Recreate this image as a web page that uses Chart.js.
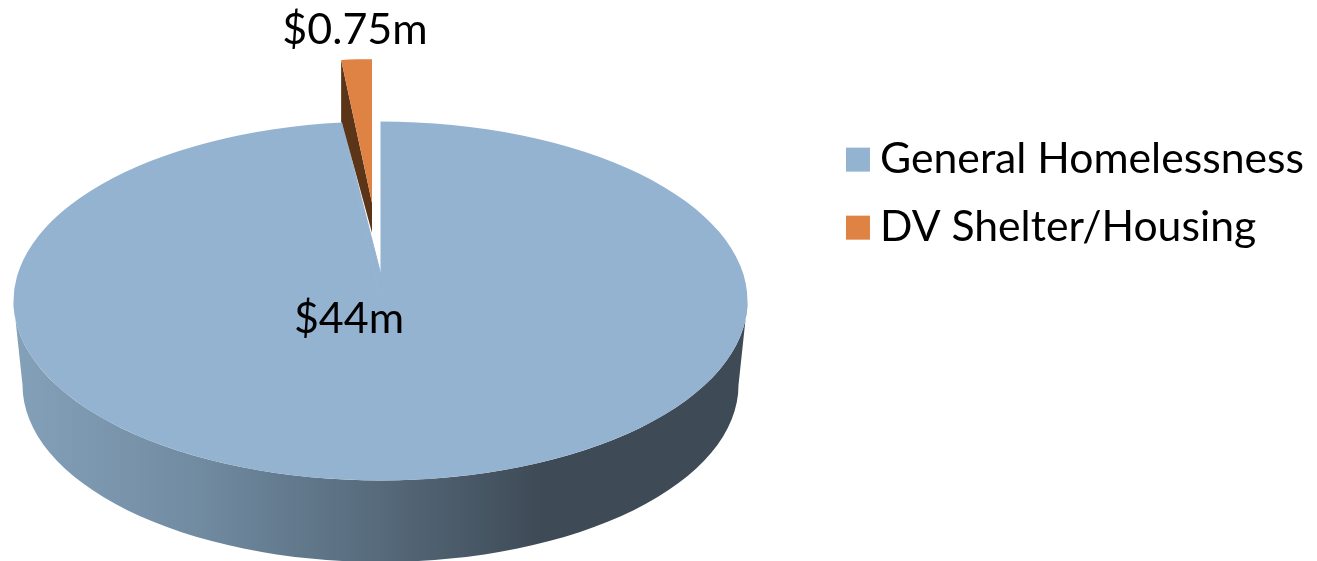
<!DOCTYPE html>
<html>
<head>
<meta charset="utf-8">
<style>
  html, body { margin: 0; background: #fff; }
  canvas { display: block; }
</style>
<script src="https://cdn.jsdelivr.net/npm/chart.js@4"></script>
</head>
<body>
<canvas id="fundingPie" width="1317" height="561"></canvas>
<script>
// Chart data
const categories = ["General Homelessness", "DV Shelter/Housing"];
const amounts = [44, 0.75];
const amountLabels = ["$44m", "$0.75m"];
const sliceColors = ["#94b3d1", "#de8344"];

// Where the tilted pie sits on the page
const pieX = 380.5, pieY = 301, pieRadius = 367, tilt = 0.489;
const wallTopY = 385, wallRadius = 358, wallDepthRadius = 177;
const fontFamily = "Lato, sans-serif";

// The small slice is pulled out and foreshortened like the picture's perspective
const explodeX = -8.5, explodeY = -201, explodeScale = 0.8;
const apexY = 273;

const pointOnRim = (angle, radius, dx = 0, dy = 0) => ({
  x: pieX + dx + Math.cos(angle) * radius,
  y: pieY + (dy + Math.sin(angle) * radius) * tilt
});

const tiltedPie = {
  id: "tiltedPie",
  afterDatasetsUpdate(chart) {
    const slice = chart.getDatasetMeta(0).data[1];
    slice.x += explodeX;
    slice.y += explodeY;
    slice.outerRadius *= explodeScale;
  },
  beforeDatasetsDraw(chart) {
    const ctx = chart.ctx;
    const [big, small] = chart.getDatasetMeta(0).data;

    // outer wall under the top face
    const shade = ctx.createLinearGradient(pieX - pieRadius, 0, pieX + pieRadius, 0);
    shade.addColorStop(0, "#84a1ba");
    shade.addColorStop(0.25, "#718ba1");
    shade.addColorStop(0.5, "#566a7b");
    shade.addColorStop(0.72, "#3e4a56");
    shade.addColorStop(1, "#3e4a56");
    ctx.save();
    ctx.fillStyle = shade;
    ctx.beginPath();
    ctx.ellipse(pieX, pieY, pieRadius, pieRadius * tilt, 0, Math.PI, 0, true);
    ctx.lineTo(pieX + wallRadius, wallTopY);
    ctx.ellipse(pieX, wallTopY, wallRadius, wallDepthRadius, 0, 0, Math.PI);
    ctx.closePath();
    ctx.fill();

    // the gap left by the small slice closes higher up than the ellipse centre
    const gapLeft = pointOnRim(big.endAngle, pieRadius);
    ctx.fillStyle = sliceColors[0];
    ctx.strokeStyle = sliceColors[0];
    ctx.lineWidth = 1;
    ctx.beginPath();
    ctx.moveTo(gapLeft.x, gapLeft.y);
    ctx.lineTo(pieX, apexY);
    ctx.lineTo(pieX, pieY);
    ctx.closePath();
    ctx.fill();
    ctx.stroke();

    // cut face of the small slice
    const sliceLeft = pointOnRim(small.startAngle, small.outerRadius, explodeX, explodeY);
    const tipY = pieY + explodeY * tilt;
    ctx.fillStyle = "#5c3519";
    ctx.beginPath();
    ctx.moveTo(sliceLeft.x, sliceLeft.y);
    ctx.lineTo(pieX + explodeX, tipY);
    ctx.lineTo(pieX + explodeX, tipY + 30);
    ctx.lineTo(gapLeft.x, gapLeft.y);
    ctx.lineTo(sliceLeft.x, gapLeft.y);
    ctx.closePath();
    ctx.fill();
    ctx.restore();

    // squash the library's arcs into an ellipse
    ctx.save();
    ctx.translate(pieX, pieY);
    ctx.scale(1, tilt);
    ctx.translate(-big.x, -big.y);
  },
  afterDatasetsDraw(chart) {
    const ctx = chart.ctx;
    ctx.restore();

    // value labels
    ctx.save();
    ctx.fillStyle = "#000";
    ctx.font = "43px " + fontFamily;
    ctx.textAlign = "center";
    ctx.textBaseline = "alphabetic";
    ctx.fillText(amountLabels[0], 349, 333);
    ctx.fillText(amountLabels[1], 355, 44);
    ctx.restore();
  }
};

new Chart(document.getElementById("fundingPie"), {
  type: "pie",
  data: {
    labels: categories,
    datasets: [{
      data: amounts,
      backgroundColor: sliceColors,
      borderWidth: 0,
      clip: false
    }]
  },
  options: {
    responsive: false,
    animation: false,
    radius: pieRadius,
    layout: { padding: { right: 3, top: 113 } },
    plugins: {
      tooltip: { enabled: false },
      legend: {
        position: "right",
        align: "start",
        labels: {
          color: "#000",
          font: { family: fontFamily, size: 42.7 },
          boxWidth: 1.5,
          boxHeight: 1.5,
          padding: 25.3,
          generateLabels(chart) {
            // wide stroke gives a 24px swatch sitting close to its text
            return Chart.overrides.pie.plugins.legend.labels.generateLabels(chart)
              .map(item => ({ ...item, lineWidth: 22.5, strokeStyle: item.fillStyle }));
          }
        }
      }
    }
  },
  plugins: [tiltedPie]
});
</script>
</body>
</html>
